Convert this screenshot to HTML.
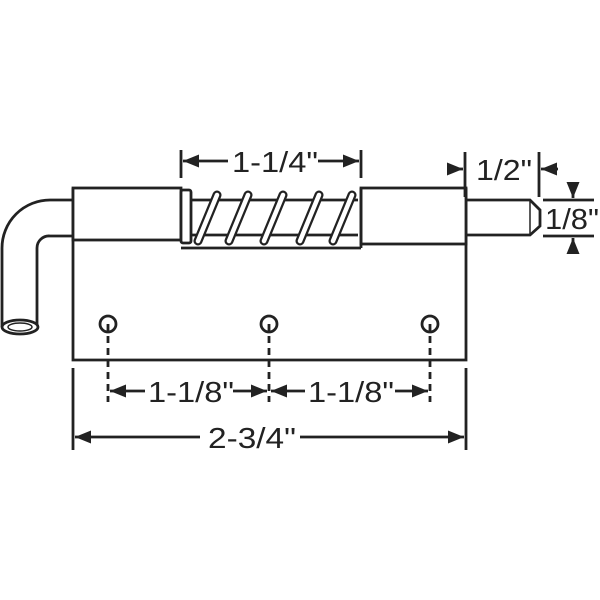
<!DOCTYPE html>
<html><head><style>html,body{margin:0;padding:0;background:#fff}svg{display:block}</style></head><body>
<svg width="600" height="600" viewBox="0 0 600 600" xmlns="http://www.w3.org/2000/svg">
<defs>
<marker id="a" markerWidth="16" markerHeight="13" refX="16" refY="6.5" orient="auto" markerUnits="userSpaceOnUse"><path d="M0,0 L16,6.5 L0,13 Z" fill="#222"/></marker>
</defs>
<g stroke="#222" fill="none" stroke-width="2.8">
<path d="M73,200 H50 A48,48 0 0 0 2,248 V327"/>
<path d="M73,236 H50 A12,12 0 0 0 37,248 V327"/>
<ellipse cx="20" cy="327" rx="18" ry="7" fill="#fff"/>
<ellipse cx="20" cy="327" rx="12" ry="4" stroke-width="1.5"/>
<path d="M73,188 V360 H466 V188"/>
<rect x="73" y="188" width="108" height="52" fill="#fff"/>
<rect x="361" y="188" width="105" height="56" fill="#fff"/>
<path d="M181,248 H361"/>
<path d="M191,200 H358 M191,235 H358"/>
<rect x="181" y="190" width="10" height="53" rx="2" fill="#fff"/>
<path d="M466,200 H530 L540,210 V226 L530,235 H466"/>
<path d="M530,200 V235" stroke-width="1.5"/>
</g>
<g stroke-linecap="round">
<g stroke="#222" stroke-width="9">
<path d="M217,195 L198,241 M248,195 L229,241 M283,195 L264,241 M319,195 L300,241 M352,195 L333,241"/>
</g>
<g stroke="#fff" stroke-width="4.5">
<path d="M217,195 L198,241 M248,195 L229,241 M283,195 L264,241 M319,195 L300,241 M352,195 L333,241"/>
</g>
</g>
<path d="M361,188 V248" stroke="#222" stroke-width="2.8"/>
<g stroke="#222" stroke-width="2.8" fill="#fff">
<circle cx="108" cy="324" r="8"/><circle cx="269" cy="324" r="8"/><circle cx="430" cy="324" r="8"/>
</g>
<g stroke="#222" stroke-width="2.8" stroke-dasharray="7,5">
<path d="M108,324 V402 M269,324 V402 M430,324 V402"/>
</g>
<g stroke="#222" stroke-width="2.8" fill="none">
<path d="M181,150 V178 M361,150 V178"/>
<path d="M228,161 H183" marker-end="url(#a)"/><path d="M318,161 H359" marker-end="url(#a)"/>
<path d="M465,152 V197 M539,152 V197"/>
<path d="M448,169 H463" marker-end="url(#a)"/><path d="M558,169 H541" marker-end="url(#a)"/>
<path d="M543,200 H594 M543,236 H594"/>
<path d="M573,182 V198" marker-end="url(#a)"/><path d="M573,254 V238" marker-end="url(#a)"/>
<path d="M73,368 V450 M466,368 V450"/>
<path d="M145,391 H110" marker-end="url(#a)"/><path d="M233,391 H267" marker-end="url(#a)"/>
<path d="M305,391 H271" marker-end="url(#a)"/><path d="M395,391 H428" marker-end="url(#a)"/>
<path d="M200,437 H75" marker-end="url(#a)"/><path d="M300,437 H464" marker-end="url(#a)"/>
</g>
<g font-family="Liberation Sans, sans-serif" font-size="29" fill="#222">
<text x="232" y="172" textLength="86" lengthAdjust="spacingAndGlyphs">1-1/4"</text>
<text x="476" y="180" textLength="56" lengthAdjust="spacingAndGlyphs">1/2"</text>
<text x="545" y="229" textLength="54" lengthAdjust="spacingAndGlyphs">1/8"</text>
<text x="148" y="402" textLength="86" lengthAdjust="spacingAndGlyphs">1-1/8"</text>
<text x="308" y="402" textLength="86" lengthAdjust="spacingAndGlyphs">1-1/8"</text>
<text x="208" y="448" textLength="88" lengthAdjust="spacingAndGlyphs">2-3/4"</text>
</g>
</svg>
</body></html>
